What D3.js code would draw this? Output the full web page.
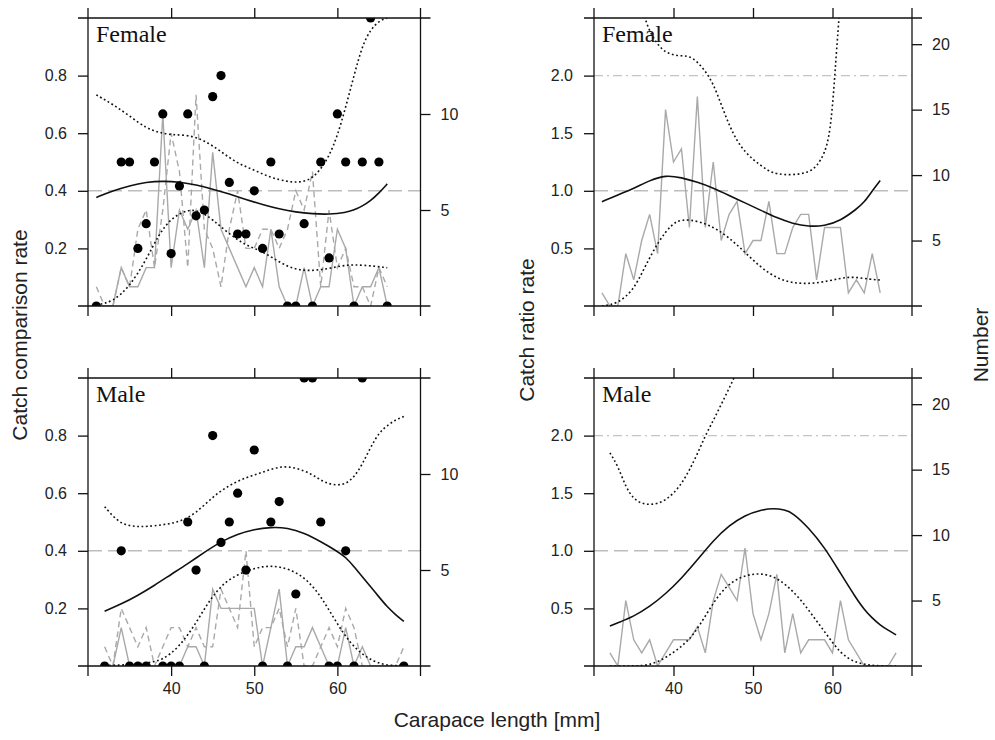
<!DOCTYPE html>
<html>
<head>
<meta charset="utf-8">
<script src="https://cdn.jsdelivr.net/npm/d3@7"></script>
<style>
  body { margin: 0; background: #fff; }
  svg { display: block; }
  text { font-family: "Liberation Sans", Arial, sans-serif; fill: #222; }
  .plab { font-family: "Liberation Serif", "Times New Roman", serif; font-size: 24px; fill: #111; }
</style>
</head>
<body>
<div id="chart"></div>
<script>
// Catch comparison / catch ratio by carapace length, female and male

/* ---------- data ---------- */
// female: counts by carapace length (mm)
const femaleLen   = [31,32,33,34,35,36,37,38,39,40,41,42,43,44,45,46,47,48,49,50,51,52,53,54,55,56,57,58,59,60,61,62,63,64,65,66];
const femaleGearA = [0,0,0,2,1,1,2,2,10,2,5,4,5,2,8,4,3,2,1,2,1,4,1,0,0,2,0,1,1,4,3,0,1,1,2,0];
const femaleGearB = [1,0,0,2,1,4,5,2,5,9,7,2,11,4,3,1,4,6,3,3,4,4,3,4,6,5,7,1,5,2,3,1,1,0,2,1];
const femaleTotal = [1,0,0,4,2,5,7,4,15,11,12,6,16,6,11,5,7,8,4,5,5,8,4,4,6,7,7,2,6,6,6,1,2,1,4,1];

// female: observed catch comparison rate
const femaleRateLen = [31,34,35,36,37,38,39,40,41,42,43,44,45,46,47,48,49,50,51,52,53,54,55,56,57,58,59,60,61,62,63,64,65,66];
const femaleRate    = [0,0.5,0.5,0.2,0.286,0.5,0.667,0.182,0.417,0.667,0.313,0.333,0.727,0.8,0.429,0.25,0.25,0.4,0.2,0.5,0.25,0,0,0.286,0,0.5,0.167,0.667,0.5,0,0.5,1,0.5,0];

// female: fitted catch comparison rate with CI
const fcFitX = [31,33,35,37,39,41,43,45,47,49,51,53,55,57,59,61,62,63,64,65,66];
const fcFit  = [0.377,0.400,0.418,0.430,0.434,0.431,0.421,0.406,0.389,0.370,0.352,0.337,0.326,0.320,0.318,0.324,0.333,0.347,0.366,0.392,0.424];
const fcUpX  = [31,33,35,37,38.5,40,42,44,46,48,50,52,54,55,56,57,58,59,60,61,62,63,64,65,66];
const fcUp   = [0.733,0.70,0.66,0.617,0.603,0.594,0.594,0.576,0.536,0.495,0.472,0.445,0.432,0.43,0.432,0.445,0.475,0.52,0.59,0.69,0.80,0.905,0.96,0.99,1.0];
const fcLoX  = [31,33,35,37,38.5,40,42,43.5,45,47,49,51,53,55,57,59,61,63,66];
const fcLo   = [0.003,0.015,0.067,0.16,0.248,0.305,0.336,0.33,0.30,0.25,0.21,0.19,0.152,0.125,0.122,0.13,0.143,0.143,0.133];

// female: fitted catch ratio with CI
const frFitX = [31,33,35,37,39,41,43,45,47,49,51,53,55,57,59,61,63,64,65,66];
const frFit  = [0.905,0.965,1.02,1.09,1.137,1.115,1.075,1.025,0.96,0.895,0.83,0.765,0.715,0.69,0.695,0.74,0.84,0.90,1.0,1.09];
const frUpX  = [35,36,36.4,37,38,39,40,41,42,43,44,45,46,47,48,49,50,51,52,53,55,57,58,59,59.7,60.2,60.5,61,62];
const frUp   = [3.0,2.6,2.5,2.38,2.27,2.2,2.18,2.17,2.17,2.12,2.04,1.93,1.75,1.57,1.43,1.34,1.27,1.22,1.17,1.145,1.135,1.16,1.21,1.32,1.5,1.9,2.22,2.65,3.8];
const frLoX  = [31,33,35,36.4,38.2,39.8,41,43.3,45.8,48.3,50.8,53.3,55.8,58.4,60.9,62.6,64.7,66];
const frLo   = [0.0,0.02,0.139,0.341,0.573,0.712,0.755,0.737,0.66,0.515,0.341,0.226,0.191,0.2,0.24,0.255,0.231,0.226];

// male: counts by carapace length (mm)
const maleLen   = [32,33,34,35,36,37,38,39,40,41,42,43,44,45,46,47,48,49,50,51,52,53,54,55,56,57,58,59,60,61,62,63,64,65,66,67,68];
const maleGearA = [0,0,2,0,0,0,0,0,0,0,1,1,0,4,3,3,3,3,3,0,2,4,0,1,1,2,1,0,0,2,0,1,0,0,0,0,0];
const maleGearB = [1,0,3,2,1,2,0,1,2,2,1,2,1,1,4,3,2,6,1,2,2,3,1,3,0,0,1,2,1,3,2,0,0,0,0,0,1];
const maleTotal = [1,0,5,2,1,2,0,1,2,2,2,3,1,5,7,6,5,9,4,2,4,7,1,4,1,2,2,2,1,5,2,1,0,0,0,0,1];

// male: observed catch comparison rate
const maleRateLen = [32,34,35,36,37,39,40,41,42,43,44,45,46,47,48,49,50,51,52,53,54,55,56,57,58,59,60,61,62,63,68];
const maleRate    = [0,0.4,0,0,0,0,0,0,0.5,0.333,0,0.8,0.429,0.5,0.6,0.333,0.75,0,0.5,0.571,0,0.25,1,1,0.5,0,0,0.4,0,1,0];

// male: fitted catch comparison rate with CI
const mcFitX = [32,34,36,38,40,42,44,46,48,50,52,54,56,58,60,61,62,63,64,65,66,67,68];
const mcFit  = [0.19,0.215,0.245,0.28,0.318,0.355,0.395,0.432,0.458,0.475,0.482,0.48,0.462,0.432,0.398,0.378,0.345,0.31,0.275,0.24,0.205,0.178,0.155];
const mcUpX  = [32,33,34,35,36,37,39,41,43,45,47,49,51,53,55,57,58,59,60,61,62,63,64,65,66,67,68];
const mcUp   = [0.553,0.52,0.495,0.487,0.484,0.484,0.49,0.50,0.53,0.588,0.628,0.655,0.672,0.694,0.69,0.665,0.645,0.632,0.628,0.632,0.655,0.70,0.76,0.81,0.835,0.855,0.866];
const mcLoX  = [32,35,37,39,41,43,44.6,46.6,49,51,53,55.5,57.5,59,60.7,62.3,64.3,66.3,68];
const mcLo   = [0.002,0.004,0.01,0.02,0.067,0.148,0.229,0.298,0.33,0.347,0.347,0.322,0.264,0.194,0.113,0.055,0.015,0.0,0.003];

// male: fitted catch ratio with CI
const mrFitX = [32,33,35,37,39,41,43,45,47,49,51,52.6,54,55,57,59,61,63,64,65,66,67,68];
const mrFit  = [0.347,0.375,0.43,0.515,0.625,0.76,0.92,1.09,1.22,1.31,1.355,1.37,1.355,1.33,1.2,1.03,0.805,0.585,0.49,0.415,0.355,0.31,0.27];
const mrUpX  = [32,33,34,35,36,37,38,39,40,41,42,43,44,45,46,47,48,49];
const mrUp   = [1.85,1.74,1.55,1.45,1.41,1.40,1.41,1.44,1.50,1.58,1.70,1.84,2.0,2.13,2.27,2.41,2.56,2.72];
const mrLoX  = [32,35,37,39,40.8,42.5,44.2,45.8,47.5,49.2,50.9,52.6,54.2,55.9,57.6,59.3,61,62.6,64.3,66,68];
const mrLo   = [0.0,0.0,0.005,0.07,0.155,0.265,0.457,0.631,0.742,0.79,0.805,0.78,0.703,0.588,0.428,0.27,0.11,0.038,0.01,0.0,0.0];

// axes
const xTicks        = [40, 50, 60];
const compTicks     = [0.2, 0.4, 0.6, 0.8];
const ratioTicks    = [0.5, 1.0, 1.5, 2.0];
const numTicksComp  = [5, 10];
const numTicksRatio = [5, 10, 15, 20];

/* ---------- drawing ---------- */
const W = 995, H = 740;
const TICK = 10;
const svg = d3.select("#chart").append("svg").attr("width", W).attr("height", H);
const defs = svg.append("defs");

const zip = (xs, ys) => xs.map((v, i) => [v, ys[i]]);

function panel(o) {
  const { left, right, top, bottom } = o.box;
  const x  = d3.scaleLinear().domain([30, 70]).range([left, right]);
  const y  = d3.scaleLinear().domain(o.yDom).range([bottom, top]);
  const yn = d3.scaleLinear().domain(o.nDom).range([bottom, top]);

  defs.append("clipPath").attr("id", "clip-" + o.id)
    .append("rect").attr("x", left).attr("y", top)
    .attr("width", right - left).attr("height", bottom - top);

  const g = svg.append("g").attr("clip-path", `url(#clip-${o.id})`);

  // reference lines
  g.append("line")
    .attr("x1", left).attr("x2", right)
    .attr("y1", y(o.refDash)).attr("y2", y(o.refDash))
    .attr("stroke", "#bdbdbd").attr("stroke-width", 1.5)
    .attr("stroke-dasharray", "14,6");
  if (o.refDashDot != null) {
    g.append("line")
      .attr("x1", left).attr("x2", right)
      .attr("y1", y(o.refDashDot)).attr("y2", y(o.refDashDot))
      .attr("stroke", "#c4c4c4").attr("stroke-width", 1.2)
      .attr("stroke-dasharray", "9,4,2,4");
  }

  // numbers (right axis)
  const nLine = d3.line().x(d => x(d[0])).y(d => yn(d[1]));
  o.counts.forEach(c => {
    g.append("path")
      .attr("d", nLine(zip(o.len, c.values)))
      .attr("fill", "none").attr("stroke", "#a9a9a9").attr("stroke-width", 1.4)
      .attr("stroke-dasharray", c.dash || null);
  });

  // fitted curve and confidence band
  const fLine = d3.line().x(d => x(d[0])).y(d => y(d[1])).curve(d3.curveBasis);
  g.append("path").attr("d", fLine(zip(o.fitX, o.fit)))
    .attr("fill", "none").attr("stroke", "#111").attr("stroke-width", 1.6);
  [[o.upX, o.up], [o.loX, o.lo]].forEach(([xs, ys]) => {
    g.append("path").attr("d", fLine(zip(xs, ys)))
      .attr("fill", "none").attr("stroke", "#111").attr("stroke-width", 1.6)
      .attr("stroke-dasharray", "1.8,2.6");
  });

  // observed rates
  if (o.ptsX) {
    g.selectAll("circle").data(zip(o.ptsX, o.pts)).join("circle")
      .attr("cx", d => x(d[0])).attr("cy", d => y(d[1])).attr("r", 4.6)
      .attr("fill", "#000");
  }

  // frame, with lines crossing at the corners
  const fr = svg.append("g").attr("stroke", "#111").attr("stroke-width", 1.3);
  fr.append("line").attr("x1", left - TICK).attr("x2", right + TICK).attr("y1", top).attr("y2", top);
  fr.append("line").attr("x1", left - TICK).attr("x2", right + TICK).attr("y1", bottom).attr("y2", bottom);
  fr.append("line").attr("x1", left).attr("x2", left).attr("y1", top - TICK).attr("y2", bottom + TICK);
  fr.append("line").attr("x1", right).attr("x2", right).attr("y1", top - TICK).attr("y2", bottom + TICK);

  const styleAxis = sel => {
    sel.select(".domain").remove();
    sel.selectAll(".tick line").attr("stroke", "#111").attr("stroke-width", 1.3);
    sel.selectAll(".tick text").attr("font-size", 16).attr("fill", "#222")
      .style("font-family", "'Liberation Sans', Arial, sans-serif");
  };

  svg.append("g").attr("transform", `translate(0,${bottom})`)
    .call(d3.axisBottom(x).tickValues(xTicks).tickSize(TICK).tickPadding(7)
      .tickFormat(o.xLabels ? d3.format("d") : ""))
    .call(styleAxis);
  svg.append("g").attr("transform", `translate(0,${top})`)
    .call(d3.axisTop(x).tickValues(xTicks).tickSize(TICK).tickFormat(""))
    .call(styleAxis);
  svg.append("g").attr("transform", `translate(${left},0)`)
    .call(d3.axisLeft(y).tickValues(o.yTicks).tickSize(TICK).tickPadding(11).tickFormat(d3.format(".1f")))
    .call(styleAxis);
  svg.append("g").attr("transform", `translate(${right},0)`)
    .call(d3.axisRight(yn).tickValues(o.nTicks).tickSize(TICK).tickPadding(10).tickFormat(d3.format("d")))
    .call(styleAxis);

  svg.append("text").attr("class", "plab")
    .attr("x", left + 8).attr("y", top + 24).text(o.label);
}

const boxTL = { left: 88,  right: 420.5, top: 18,  bottom: 306 };
const boxTR = { left: 594, right: 912,   top: 18,  bottom: 306 };
const boxBL = { left: 88,  right: 420.5, top: 378, bottom: 666 };
const boxBR = { left: 594, right: 912,   top: 378, bottom: 666 };

panel({
  id: "fc", box: boxTL, label: "Female", yDom: [0, 1], nDom: [0, 15],
  yTicks: compTicks, nTicks: numTicksComp, refDash: 0.4, xLabels: false,
  len: femaleLen, counts: [{ values: femaleGearA }, { values: femaleGearB, dash: "6,4" }],
  fitX: fcFitX, fit: fcFit, upX: fcUpX, up: fcUp, loX: fcLoX, lo: fcLo,
  ptsX: femaleRateLen, pts: femaleRate
});
panel({
  id: "fr", box: boxTR, label: "Female", yDom: [0, 2.5], nDom: [0, 22],
  yTicks: ratioTicks, nTicks: numTicksRatio, refDash: 1.0, refDashDot: 2.0, xLabels: false,
  len: femaleLen, counts: [{ values: femaleTotal }],
  fitX: frFitX, fit: frFit, upX: frUpX, up: frUp, loX: frLoX, lo: frLo
});
panel({
  id: "mc", box: boxBL, label: "Male", yDom: [0, 1], nDom: [0, 15],
  yTicks: compTicks, nTicks: numTicksComp, refDash: 0.4, xLabels: true,
  len: maleLen, counts: [{ values: maleGearA }, { values: maleGearB, dash: "6,4" }],
  fitX: mcFitX, fit: mcFit, upX: mcUpX, up: mcUp, loX: mcLoX, lo: mcLo,
  ptsX: maleRateLen, pts: maleRate
});
panel({
  id: "mr", box: boxBR, label: "Male", yDom: [0, 2.5], nDom: [0, 22],
  yTicks: ratioTicks, nTicks: numTicksRatio, refDash: 1.0, refDashDot: 2.0, xLabels: true,
  len: maleLen, counts: [{ values: maleTotal }],
  fitX: mrFitX, fit: mrFit, upX: mrUpX, up: mrUp, loX: mrLoX, lo: mrLo
});

// axis titles
svg.append("text").attr("transform", "translate(27,335) rotate(-90)")
  .attr("text-anchor", "middle").attr("font-size", 21).text("Catch comparison rate");
svg.append("text").attr("transform", "translate(534,330) rotate(-90)")
  .attr("text-anchor", "middle").attr("font-size", 21).text("Catch ratio rate");
svg.append("text").attr("transform", "translate(988,345) rotate(-90)")
  .attr("text-anchor", "middle").attr("font-size", 21).text("Number");
svg.append("text").attr("x", 497).attr("y", 727)
  .attr("text-anchor", "middle").attr("font-size", 21).text("Carapace length [mm]");
</script>
</body>
</html>
